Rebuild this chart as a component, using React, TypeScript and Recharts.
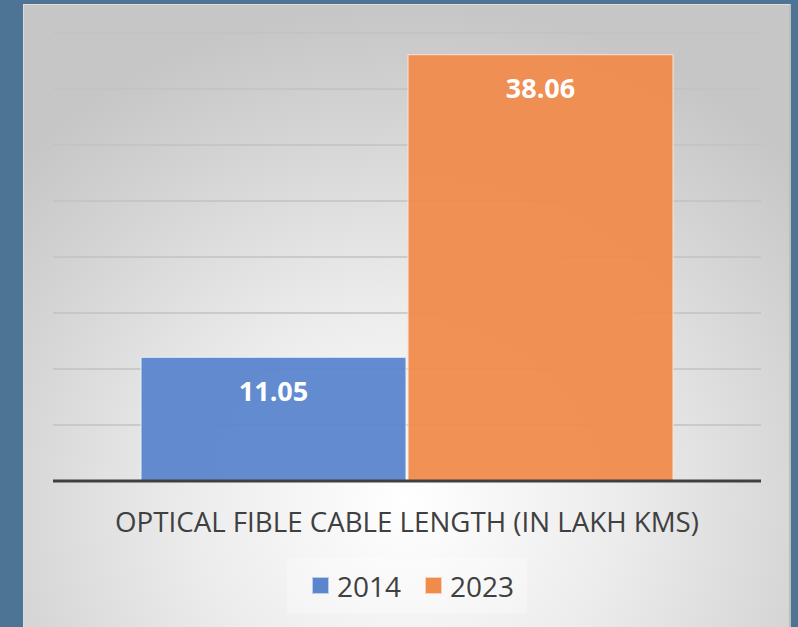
import { Bar, BarChart, CartesianGrid, LabelList, Legend, XAxis, YAxis } from "recharts";

const categories = ["OPTICAL FIBLE CABLE LENGTH (IN LAKH KMS)"];
const values2014 = [11.05];
const values2023 = [38.06];
const seriesNames = ["2014", "2023"];
const gridTicks = [0, 5, 10, 15, 20, 25, 30, 35, 40];

const BLUE = "#5b85cd";
const ORANGE = "#f08b4c";
const FONT = "'Open Sans', sans-serif";

const data = categories.map((c, i) => ({
  category: c,
  y2014: values2014[i],
  y2023: values2023[i]
}));

const ValueLabel = (props: any) => {
  const { x, y, width, value } = props;
  return (
    <text
      x={x + width / 2}
      y={y + 33}
      textAnchor="middle"
      dominantBaseline="central"
      fill="#ffffff"
      fontFamily={FONT}
      fontWeight={700}
      fontSize={27}
    >
      {Number(value).toFixed(2)}
    </text>
  );
};

const CategoryTick = (props: any) => {
  const { x, y, payload } = props;
  return (
    <text
      x={x}
      y={y}
      dy={32}
      textAnchor="middle"
      dominantBaseline="central"
      fill="#404040"
      fontFamily={FONT}
      fontSize={27.7}
    >
      {payload.value}
    </text>
  );
};

const LegendBox = () => {
  const colors = [BLUE, ORANGE];
  return (
    <div
      style={{
        display: "flex",
        alignItems: "center",
        height: 55,
        width: 240,
        background: "rgba(255,255,255,0.3)",
        fontFamily: FONT,
        fontSize: 28,
        color: "#404040"
      }}
    >
      {seriesNames.map((name, i) => (
        <div key={name} style={{ display: "flex", alignItems: "center", marginLeft: i === 0 ? 25 : 24 }}>
          <span
            style={{
              display: "inline-block",
              width: 17,
              height: 17,
              background: colors[i],
              border: "1px solid rgba(255,255,255,0.6)",
              boxSizing: "border-box",
              marginRight: 8
            }}
          />
          <span>{name}</span>
        </div>
      ))}
    </div>
  );
};

export default function App() {
  return (
    <div style={{ width: 798, height: 627, background: "#4d7395", position: "relative", overflow: "hidden" }}>
      <style>{"body{margin:0}"}</style>
      <div
        style={{
          position: "absolute",
          left: 23,
          top: 4,
          width: 768,
          height: 623,
          boxSizing: "border-box",
          borderTop: "1px solid #e2ddd9",
          borderLeft: "1px solid #dcdcdc",
          borderRight: "2px solid #bdbdbd",
          background:
            "radial-gradient(ellipse 70% 80% at 50% 80%, #ffffff 0%, #ececec 40%, #d2d2d2 80%, #c6c6c6 100%)"
        }}
      >
        <div style={{ position: "absolute", left: -1, top: -1 }}>
          <BarChart
            width={768}
            height={623}
            data={data}
            margin={{ top: 29, right: 30, bottom: 31, left: 30 }}
            barCategoryGap={88}
            barGap={2}
          >
            <CartesianGrid vertical={false} stroke="#c2c2c2" strokeWidth={1.5} />
            <YAxis hide domain={[0, 40]} ticks={gridTicks} />
            <XAxis
              dataKey="category"
              height={60}
              axisLine={{ stroke: "#404040", strokeWidth: 3 }}
              tickLine={false}
              tick={<CategoryTick />}
              interval={0}
            />
            <Legend
              verticalAlign="bottom"
              content={<LegendBox />}
              wrapperStyle={{ position: "absolute", left: 264, top: 554, width: 240, height: 55 }}
            />
            <Bar
              dataKey="y2014"
              name={seriesNames[0]}
              fill={BLUE}
              fillOpacity={0.95}
              stroke="#e8eef8"
              strokeWidth={1}
              isAnimationActive={false}
            >
              <LabelList dataKey="y2014" content={<ValueLabel />} />
            </Bar>
            <Bar
              dataKey="y2023"
              name={seriesNames[1]}
              fill={ORANGE}
              fillOpacity={0.95}
              stroke="#fbe3d3"
              strokeWidth={1}
              isAnimationActive={false}
            >
              <LabelList dataKey="y2023" content={<ValueLabel />} />
            </Bar>
          </BarChart>
        </div>
      </div>
    </div>
  );
}
